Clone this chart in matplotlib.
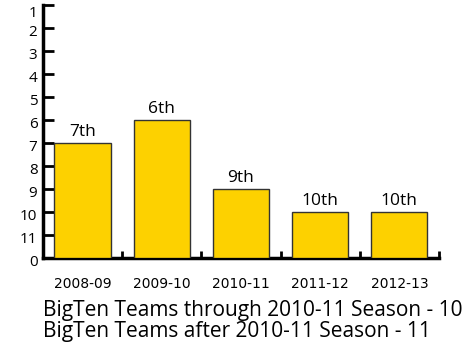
import matplotlib
matplotlib.use('Agg')
import matplotlib.pyplot as plt
import matplotlib.transforms as mtransforms
from matplotlib.ticker import FixedLocator

seasons = ['2008-09', '2009-10', '2010-11', '2011-12', '2012-13']
finish = [7, 6, 9, 10, 10]
finish_labels = ['7th', '6th', '9th', '10th', '10th']
teams_before = 10
teams_after = 11

# the chart plots rank upside down: height = 12 - rank
heights = [12 - r for r in finish]
ytick_vals = [0, 1, 2, 3, 4, 5, 6, 7, 8, 9, 10, 11]
ytick_labels = ['0', '11', '10', '9', '8', '7', '6', '5', '4', '3', '2', '1']


def main():
    plt.rcParams['font.family'] = ['Open Sans', 'DejaVu Sans']
    fig = plt.figure(figsize=(4.72, 3.44), dpi=100)
    ax = fig.add_axes([0.091, 0.25, 0.839, 0.7355])

    x = list(range(len(seasons)))
    ax.bar(x, heights, width=0.71, color='#FDD100', edgecolor='#333333', linewidth=1.0, zorder=3)
    for xi, h, lab in zip(x, heights, finish_labels):
        ax.text(xi, h + 0.15, lab, ha='center', va='bottom', fontsize=12.5)

    ax.set_xlim(-0.5, 4.5)
    ax.set_ylim(0, 11)
    for s in ['top', 'right']:
        ax.spines[s].set_visible(False)
    for s in ['left', 'bottom']:
        ax.spines[s].set_linewidth(2.5)
        ax.spines[s].set_color('black')

    ax.set_yticks(ytick_vals)
    ax.set_yticklabels(ytick_labels, fontsize=11)
    ax.tick_params(axis='y', direction='in', length=8, width=2, pad=4)
    labels = ax.get_yticklabels()
    for i, t in enumerate(labels):
        dy = -5 / 72 if i == len(labels) - 1 else -2 / 72
        t.set_transform(t.get_transform() + mtransforms.ScaledTranslation(0, dy, fig.dpi_scale_trans))

    ax.set_xticks(x)
    ax.set_xticklabels(seasons, fontsize=10, family='Liberation Sans Narrow')
    ax.tick_params(axis='x', which='major', length=0, pad=14)
    ax.xaxis.set_minor_locator(FixedLocator([0.5, 1.5, 2.5, 3.5, 4.5]))
    ax.tick_params(axis='x', which='minor', direction='in', length=5, width=2)

    fig.text(0.091, 0.096, 'BigTen Teams through 2010-11 Season - %d' % teams_before, fontsize=15, va='center')
    fig.text(0.091, 0.036, 'BigTen Teams after 2010-11 Season - %d' % teams_after, fontsize=15, va='center')

    fig.savefig('out.png', dpi=100)


if __name__ == '__main__':
    main()
